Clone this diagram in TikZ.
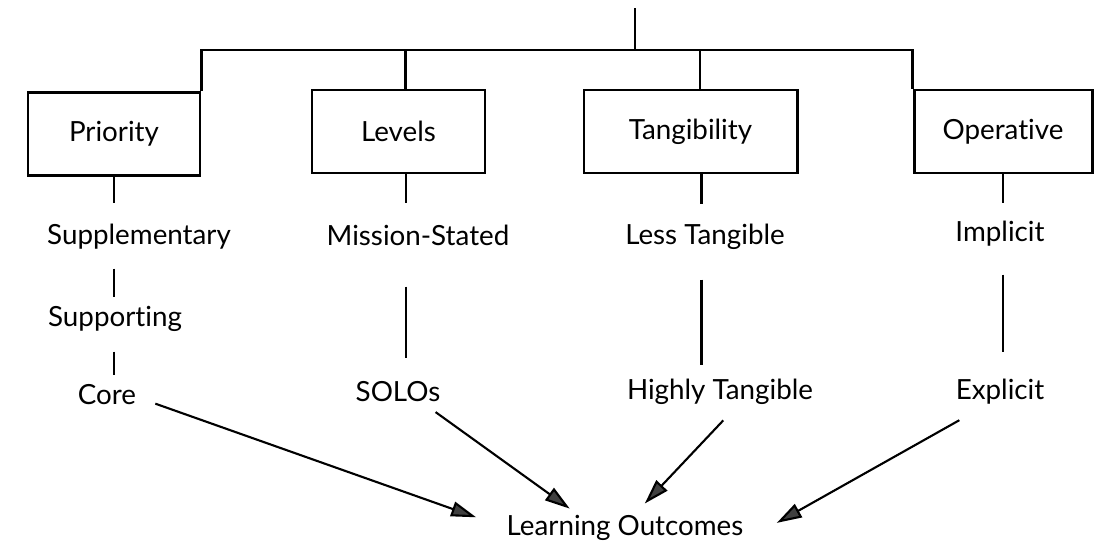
\documentclass[tikz,border=0pt]{standalone}
\usepackage{fontspec}
\setmainfont{Lato}[Ligatures={NoCommon,NoDiscretionary,NoContextual}]
\usepackage{tikz}
\usetikzlibrary{arrows.meta,positioning}
\newcommand{\diagfont}{\fontsize{15.8pt}{18pt}\selectfont}
\tikzset{category/.style={rectangle,draw=black,line width=1.7pt,minimum height=1.66cm,inner sep=0mm,font=\diagfont}}
\tikzset{leaf/.style={anchor=base,inner sep=0mm,text height=11.5pt,text depth=3.5pt,font=\diagfont}}
\tikzset{treeline/.style={draw=black,line width=1.3pt}}
\tikzset{flowarrow/.style={draw=black,line width=1.2pt,-{Triangle[length=5mm,width=3mm,fill=black!75]}}}

\begin{document}
\begin{tikzpicture}
    \useasboundingbox (0,0) rectangle (22.02,-10.94);

    \node[category,minimum width=3.44cm] (prio) at (2.28,-2.68)  {Priority};
    \node[category,minimum width=3.46cm] (lev)  at (7.97,-2.63)  {Levels};
    \node[category,minimum width=4.26cm] (tang) at (13.81,-2.63) {Tangibility};
    \node[category,minimum width=3.56cm] (oper) at (20.06,-2.63) {Operative};

    \coordinate (top) at (12.70,-0.16);
    \coordinate (bar) at (12.70,-1.00);

    \node[leaf] (supp) at (2.78,-4.88)  {Supplementary};
    \node[leaf] (supt) at (2.30,-6.52)  {Supporting};
    \node[leaf] (core) at (2.14,-8.08)  {Core};
    \node[leaf] (mst)  at (8.36,-4.90)  {Mission-Stated};
    \node[leaf] (solo) at (7.96,-8.03)  {SOLOs};
    \node[leaf] (less) at (14.10,-4.88) {Less Tangible};
    \node[leaf] (high) at (14.40,-7.98) {Highly Tangible};
    \node[leaf] (impl) at (20.00,-4.82) {Implicit};
    \node[leaf] (expl) at (20.00,-7.98) {Explicit};
    \node[leaf] (lo)   at (12.50,-10.70) {Learning Outcomes};

    \draw[treeline] (top) -- (bar);
    \draw[treeline] (prio.north east) |- (bar) -| (oper.north west);
    \draw[treeline] ([xshift=1.4mm]lev.north) |- (bar);
    \draw[treeline] ([xshift=1.9mm]tang.north) |- (bar);

    \draw[treeline,shorten >=4mm] (prio.south) -- (prio.south |- supp.north);
    \draw[treeline,shorten <=3.6mm,shorten >=1.6mm] (prio.south |- supp.south) -- (prio.south |- supt.north);
    \draw[treeline,shorten <=3.8mm,shorten >=1.6mm] (prio.south |- supt.south) -- (prio.south |- core.north);

    \draw[treeline,shorten >=4.2mm] ([xshift=1.5mm]lev.south) -- ([xshift=1.5mm]lev.south |- mst.north);
    \draw[treeline,shorten <=7mm,shorten >=4.6mm] ([xshift=1.5mm]lev.south |- mst.south) -- ([xshift=1.5mm]lev.south |- solo.north);

    \draw[treeline,shorten >=3.8mm] ([xshift=2.2mm]tang.south) -- ([xshift=2.2mm]tang.south |- less.north);
    \draw[treeline,shorten <=5.8mm,shorten >=2.6mm] ([xshift=2.2mm]tang.south |- less.south) -- ([xshift=2.2mm]tang.south |- high.north);

    \draw[treeline,shorten >=3.4mm] (oper.south) -- (oper.south |- impl.north);
    \draw[treeline,shorten <=5.4mm,shorten >=5.2mm] (oper.south |- impl.south) -- (oper.south |- expl.north);

    \draw[flowarrow,shorten <=4mm,shorten >=6.4mm] (core.east) -- (lo.west);
    \draw[flowarrow,shorten <=1.4mm,shorten >=2mm] (solo.-23) -- (lo.164);
    \draw[flowarrow,shorten <=4.1mm,shorten >=3mm] (high.-38) -- (lo.55);
    \draw[flowarrow,shorten <=6mm,shorten >=7.6mm] (expl.-137) -- (lo.south east);
\end{tikzpicture}
\end{document}
